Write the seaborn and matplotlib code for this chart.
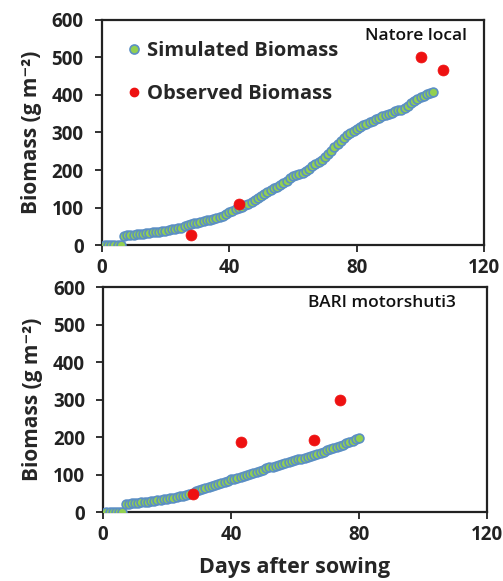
import matplotlib
matplotlib.use('Agg')
import matplotlib.pyplot as plt
import pandas as pd
import seaborn as sns
from matplotlib.lines import Line2D

# simulated biomass (g m-2), one value per day after sowing
sim_days_natore = list(range(1, 105))
sim_natore = [0, 0, 0, 0, 0, 0, 25, 26, 27, 28,
              29, 30, 31, 32, 33, 34, 35, 36, 37, 39,
              40, 42, 43, 45, 47, 50, 53, 56, 58, 60,
              62, 64, 66, 68, 71, 73, 75, 78, 82, 87,
              91, 95, 99, 102, 106, 110, 116, 121, 126, 131,
              136, 141, 146, 151, 156, 161, 166, 172, 178, 184,
              188, 190, 192, 197, 204, 210, 216, 222, 228, 235,
              243, 251, 260, 269, 277, 285, 292, 299, 305, 310,
              315, 319, 323, 327, 331, 335, 339, 343, 347, 350,
              353, 356, 359, 361, 364, 370, 378, 385, 390, 394,
              398, 402, 405, 408]

sim_days_bari = list(range(1, 81))
sim_bari = [0, 0, 0, 0, 0, 0, 22, 23, 24, 25,
            26, 27, 28, 29, 30, 31, 32, 33, 35, 36,
            38, 39, 41, 43, 45, 47, 50, 53, 56, 59,
            62, 65, 68, 70, 73, 76, 79, 82, 85, 88,
            90, 92, 94, 96, 99, 102, 105, 108, 111, 114,
            117, 120, 122, 124, 126, 128, 131, 134, 137, 139,
            141, 143, 145, 147, 150, 153, 156, 159, 162, 165,
            168, 171, 174, 177, 180, 184, 188, 191, 195, 199]

# observed biomass
obs_days_natore = [28, 43, 100, 107]
obs_natore = [27, 109, 502, 467]
obs_days_bari = [28, 43, 66, 74]
obs_bari = [49, 187, 193, 299]

sns.set_theme(style='white')
plt.rcParams['font.family'] = ['Open Sans', 'DejaVu Sans']

sim_face = '#92d050'
sim_edge = '#5b8fc4'
obs_color = '#ee1111'

fig = plt.figure(figsize=(5.03, 5.81), dpi=100)
ax1 = fig.add_axes([0.202, 0.578, 0.761, 0.388])
ax2 = fig.add_axes([0.205, 0.118, 0.763, 0.388])

panels = [
    (ax1, sim_days_natore, sim_natore, obs_days_natore, obs_natore, 'Natore local', 0.955),
    (ax2, sim_days_bari, sim_bari, obs_days_bari, obs_bari, 'BARI motorshuti3', 0.92),
]

for ax, sd, sv, od, ov, name, tx in panels:
    sim = pd.DataFrame({'day': sd, 'biomass': sv})
    obs = pd.DataFrame({'day': od, 'biomass': ov})
    sns.scatterplot(data=sim, x='day', y='biomass', ax=ax, s=40,
                    color=sim_face, edgecolor=sim_edge, linewidth=1.2, zorder=3)
    sns.scatterplot(data=obs, x='day', y='biomass', ax=ax, s=62,
                    color=obs_color, edgecolor=obs_color, linewidth=0.5, zorder=4)
    ax.set_xlim(0, 120)
    ax.set_ylim(0, 600)
    ax.set_xticks([0, 40, 80, 120])
    ax.set_yticks([0, 100, 200, 300, 400, 500, 600])
    ax.tick_params(direction='out', length=5, width=1.3, colors='#222222',
                   labelsize=13.5, pad=4, bottom=True, left=True)
    ax.tick_params(axis='y', pad=8)
    for lab in ax.get_xticklabels() + ax.get_yticklabels():
        lab.set_fontweight('bold')
    for sp in ax.spines.values():
        sp.set_color('#222222')
        sp.set_linewidth(1.6)
    ax.set_ylabel('Biomass (g m\u207b\u00b2)', fontsize=15, fontweight='bold',
                  labelpad=7)
    ax.set_xlabel('')
    ax.text(tx, 0.965, name, transform=ax.transAxes, ha='right', va='top',
            fontsize=12.5, fontweight='semibold', color='#111111')

ax2.set_xlabel('Days after sowing', fontsize=15.5, fontweight='bold', labelpad=9)

handles = [
    Line2D([], [], marker='o', linestyle='', markersize=6.5,
           markerfacecolor=sim_face, markeredgecolor=sim_edge, markeredgewidth=1.2),
    Line2D([], [], marker='o', linestyle='', markersize=6,
           markerfacecolor=obs_color, markeredgecolor=obs_color),
]
ax1.legend(handles, ['Simulated Biomass', 'Observed Biomass'], loc='upper left',
           bbox_to_anchor=(0.01, 0.985), frameon=False, handletextpad=0.15,
           labelspacing=1.15, handlelength=1.0,
           prop={'size': 14.5, 'weight': 'bold'})

fig.savefig('out.png', dpi=100)
